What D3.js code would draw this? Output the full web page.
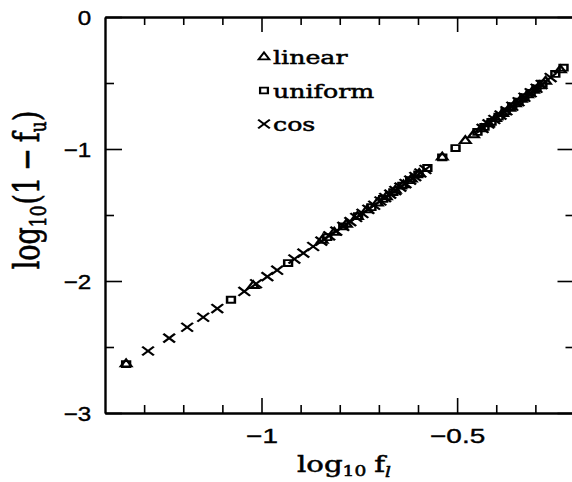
<!DOCTYPE html>
<html>
<head>
<meta charset="utf-8">
<script src="https://cdn.jsdelivr.net/npm/d3@7"></script>
<style>
  body { margin: 0; background: #fff; }
  svg { display: block; }
</style>
</head>
<body>
<script>
// log10 f_l and log10(1 - f_u) for each profile
var linearX = [-1.346, -1.021, -0.845, -0.814, -0.783, -0.755, -0.730, -0.704, -0.681, -0.658, -0.637, -0.617, -0.597, -0.538, -0.479, -0.458, -0.438, -0.420, -0.402, -0.384, -0.366, -0.351, -0.336, -0.320, -0.305, -0.289, -0.274, -0.236];
var linearY = [-2.629, -2.036, -1.693, -1.632, -1.571, -1.514, -1.462, -1.410, -1.363, -1.315, -1.273, -1.230, -1.187, -1.063, -0.938, -0.894, -0.849, -0.810, -0.771, -0.732, -0.693, -0.659, -0.625, -0.591, -0.557, -0.523, -0.488, -0.402];

var uniformX = [-1.346, -1.078, -0.932, -0.832, -0.791, -0.753, -0.719, -0.689, -0.663, -0.640, -0.620, -0.599, -0.576, -0.538, -0.504, -0.448, -0.430, -0.412, -0.394, -0.376, -0.359, -0.343, -0.328, -0.312, -0.297, -0.282, -0.249, -0.228];
var uniformY = [-2.629, -2.142, -1.864, -1.668, -1.586, -1.509, -1.441, -1.378, -1.326, -1.278, -1.236, -1.193, -1.144, -1.063, -0.993, -0.871, -0.833, -0.794, -0.755, -0.715, -0.676, -0.642, -0.608, -0.574, -0.540, -0.505, -0.431, -0.384];

var cosX = [-1.290, -1.236, -1.190, -1.149, -1.113, -1.044, -1.014, -0.985, -0.960, -0.916, -0.893, -0.868, -0.847, -0.827, -0.809, -0.791, -0.773, -0.758, -0.742, -0.727, -0.712, -0.696, -0.684, -0.671, -0.658, -0.645, -0.632, -0.620, -0.607, -0.594, -0.581, -0.435, -0.420, -0.405, -0.389, -0.374, -0.359, -0.343, -0.328, -0.312, -0.297, -0.284, -0.261];
var cosY = [-2.530, -2.433, -2.350, -2.275, -2.209, -2.079, -2.021, -1.967, -1.918, -1.834, -1.789, -1.739, -1.698, -1.658, -1.622, -1.586, -1.550, -1.519, -1.488, -1.457, -1.426, -1.394, -1.368, -1.342, -1.315, -1.289, -1.262, -1.236, -1.209, -1.182, -1.155, -0.844, -0.810, -0.777, -0.743, -0.710, -0.676, -0.642, -0.608, -0.574, -0.540, -0.511, -0.459];

var legendNames = ["linear", "uniform", "cos"];
var xMajor = [-1, -0.5];
var xMinor = [-1.3, -1.2, -1.1, -0.9, -0.8, -0.7, -0.6, -0.4, -0.3];
var yMajor = [-3, -2, -1, 0];
var yMinor = [-2.5, -1.5, -0.5];

var W = 572, H = 482;
var stretch = 1.33; // the scanned figure is wider than tall, text looks stretched

var svg = d3.select('body')
    .append('svg')
    .attr('width', W)
    .attr('height', H);

var x = d3.scaleLinear().domain([-1.4, -0.2]).range([105, 574.5]);
var y = d3.scaleLinear().domain([-3, 0]).range([413, 17]);

var fmt = d => d3.format('')(d).replace('-', '\u2212');

// frame: ticks on all four sides, pointing inward
var gx = svg.append('g').attr('transform', `translate(0,${y(-3)})`)
    .call(d3.axisBottom(x).tickValues(xMajor).tickSize(-15).tickSizeOuter(0).tickPadding(15).tickFormat(fmt));
svg.append('g').attr('transform', `translate(0,${y(-3)})`)
    .call(d3.axisBottom(x).tickValues(xMinor).tickSize(-8).tickSizeOuter(0).tickFormat(''));
svg.append('g').attr('transform', `translate(0,${y(0)})`)
    .call(d3.axisTop(x).tickValues(xMajor).tickSize(-15).tickSizeOuter(0).tickFormat(''));
svg.append('g').attr('transform', `translate(0,${y(0)})`)
    .call(d3.axisTop(x).tickValues(xMinor).tickSize(-8).tickSizeOuter(0).tickFormat(''));

var gy = svg.append('g').attr('transform', `translate(${x(-1.4)},0)`)
    .call(d3.axisLeft(y).tickValues(yMajor).tickSize(-17).tickSizeOuter(0).tickPadding(12).tickFormat(fmt));
svg.append('g').attr('transform', `translate(${x(-1.4)},0)`)
    .call(d3.axisLeft(y).tickValues(yMinor).tickSize(-9).tickSizeOuter(0).tickFormat(''));
svg.append('g').attr('transform', `translate(${x(-0.2)},0)`)
    .call(d3.axisRight(y).tickValues(yMajor).tickSize(-17).tickSizeOuter(0).tickFormat(''));
svg.append('g').attr('transform', `translate(${x(-0.2)},0)`)
    .call(d3.axisRight(y).tickValues(yMinor).tickSize(-9).tickSizeOuter(0).tickFormat(''));

svg.selectAll('.domain').attr('stroke', '#000').attr('stroke-width', 1.9);
svg.selectAll('.tick line').attr('stroke', '#000').attr('stroke-width', 1.6);
svg.selectAll('.tick text')
    .attr('font-family', '"Liberation Sans", Arial, sans-serif')
    .attr('font-size', 21)
    .attr('fill', '#000')
    .attr('stroke', '#000')
    .attr('stroke-width', 0.4);
gx.selectAll('.tick text').attr('transform', `scale(${stretch},1)`);
gy.selectAll('.tick text').attr('transform', `scale(1.15,1)`).attr('dy', '0.36em');

// markers
var tri = d3.symbol().type(d3.symbolTriangle2).size(46);
var sq = d3.symbol().type(d3.symbolSquare2).size(44);
var cross = d3.symbol().type(d3.symbolTimes).size(52);

function mark(xs, ys, sym) {
    svg.append('g').selectAll('path')
        .data(xs)
        .enter()
        .append('path')
        .attr('d', sym)
        .attr('transform', (d, i) => `translate(${x(d)},${y(ys[i])}) scale(${stretch},1)`)
        .attr('fill', 'none')
        .attr('stroke', '#000')
        .attr('stroke-width', 1.9);
}
mark(linearX, linearY, tri);
mark(uniformX, uniformY, sq);
mark(cosX, cosY, cross);

// legend
var legSyms = [tri, sq, cross];
var leg = svg.append('g');
legendNames.forEach(function(name, i) {
    var ly = 57 + i * 33.5;
    leg.append('path')
        .attr('d', legSyms[i])
        .attr('transform', `translate(264,${ly}) scale(${stretch},1)`)
        .attr('fill', 'none')
        .attr('stroke', '#000')
        .attr('stroke-width', 1.7);
    leg.append('text')
        .attr('transform', `translate(273,${ly + 7}) scale(${stretch},1)`)
        .attr('font-family', '"DejaVu Serif", serif')
        .attr('font-size', 19)
        .attr('fill', '#000')
        .attr('stroke', '#000')
        .attr('stroke-width', 0.5)
        .text(name);
});

// axis titles
var xt = svg.append('text')
    .attr('transform', `translate(344,472) scale(${stretch},1)`)
    .attr('text-anchor', 'middle')
    .attr('font-family', '"DejaVu Serif", serif')
    .attr('font-size', 22)
    .attr('fill', '#000')
    .attr('stroke', '#000')
    .attr('stroke-width', 0.5);
xt.append('tspan').text('log');
xt.append('tspan').attr('font-size', 14).attr('dy', 4).text('10');
xt.append('tspan').attr('dy', -4).attr('dx', 6).text('f');
xt.append('tspan').attr('font-size', 14).attr('dy', 5).attr('font-style', 'italic').text('l');

var yt = svg.append('text')
    .attr('transform', `translate(39,190) scale(${stretch},1) rotate(-90)`)
    .attr('text-anchor', 'middle')
    .attr('font-family', '"DejaVu Serif", serif')
    .attr('font-size', 27)
    .attr('fill', '#000')
    .attr('stroke', '#000')
    .attr('stroke-width', 0.5);
yt.append('tspan').text('log');
yt.append('tspan').attr('font-size', 17).attr('dy', 5).text('10');
yt.append('tspan').attr('dy', -5).attr('dx', 1).text('(1');
yt.append('tspan').attr('dx', 6).text('\u2212');
yt.append('tspan').attr('dx', 6).text('f');
yt.append('tspan').attr('font-size', 17).attr('dy', 5).text('u');
yt.append('tspan').attr('dy', -5).text(')');
</script>
</body>
</html>
